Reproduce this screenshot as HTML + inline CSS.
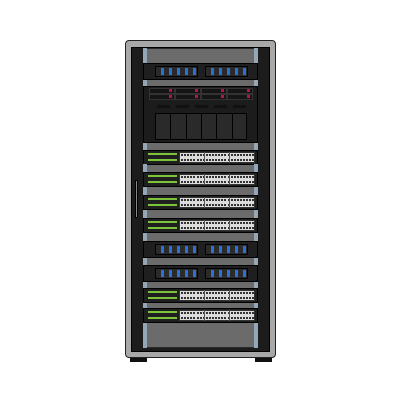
<!DOCTYPE html><html><head><style>
body{margin:0;width:400px;height:400px;background:#fff;position:relative;overflow:hidden}
div{position:absolute;box-sizing:border-box}
.g{background:#6b6b6b;border:1px solid #2a2a2a}
.r{background:#8fa0b0;width:4px}
.d{background:#1e1e1e;border:1px solid #111}
.bl{background:#2b2b2b;border:1px solid #111;height:11px}
.bl i{position:absolute;top:2px;width:3px;height:6px;background:#2f6fd0}
.gr{background:#7cc23a;height:2px;left:148px;width:29px}
.pt{left:179px;width:77px;background:#d8d8d8;border:1px solid #333;
background-image:repeating-linear-gradient(90deg,transparent 0 2px,#333 2px 4px),linear-gradient(#333,#333);
}
</style></head><body>
<div style="left:130px;top:357px;width:17px;height:5px;background:#111"></div>
<div style="left:255px;top:357px;width:17px;height:5px;background:#111"></div>
<div style="left:125px;top:40px;width:151px;height:318px;background:#a8a8a8;border:1.5px solid #222;border-radius:4px"></div>
<div style="left:131px;top:47px;width:139px;height:305px;background:#1c1c1c;border:1px solid #000"></div>
<div style="left:135px;top:180px;width:3px;height:38px;background:#888;border:1px solid #000"></div>
<!-- gray background area -->
<div class="g" style="left:143px;top:48px;width:115px;height:300px"></div>
<div id="units"></div>
<script>
var h='';
function d(x,y,w,hh,c,extra){h+='<div style="left:'+x+'px;top:'+y+'px;width:'+w+'px;height:'+hh+'px;'+c+(extra||'')+'"></div>';}
function rails(y,hh){d(143,y,4,hh,'background:#95a6b6;');d(254,y,4,hh,'background:#95a6b6;');}
rails(48,15);
function blue(y){d(143,y,115,17,'background:#1f1f1f;border:1px solid #000;');
 [155,205].forEach(function(x){d(x,y+3,43,11,'background:#2a2a2a;border:1px solid #000;');
  for(var k=0;k<5;k++)d(x+6+k*8,y+5,3,7,'background:#2f6fd0;');});}
function sw(y){d(143,y,115,15,'background:#1f1f1f;border:1px solid #000;');
 d(148,y+3,29,2,'background:#7cc23a;');d(148,y+9,29,2,'background:#7cc23a;');
 d(179,y+2,76,11,'background:#dcdcdc;border:1px solid #333;');
 for(var r=0;r<2;r++)for(var k=0;k<24;k++)d(181+k*3.1,y+4+r*5,2,2,'background:#333;');
 d(204,y+2,1,11,'background:#555;');d(229,y+2,1,11,'background:#555;');}
blue(63);rails(80,6);
d(143,86,115,57,'background:#1c1c1c;border:1px solid #000;');
for(var r=0;r<2;r++)for(var c=0;c<4;c++){d(149+c*26,88+r*6,26,6,'background:#151515;border:1px solid #333;');d(169+c*26,89+r*6,3,3,'background:#b0174a;');}
for(var c=0;c<5;c++)d(157+c*19,105,13,3,'background:#111;');
d(155,113,92,27,'background:#2a2a2a;border:1px solid #000;');
for(var c=1;c<6;c++)d(155+c*15.3,113,1,27,'background:#000;');
rails(143,7);sw(150);rails(164,8);sw(172);rails(187,8);sw(195);rails(210,8);sw(218);rails(233,8);
blue(241);rails(258,7);blue(265);rails(282,6);sw(288);rails(303,5);sw(308);rails(323,25);
document.getElementById('units').outerHTML=h;
</script>
</body></html>
